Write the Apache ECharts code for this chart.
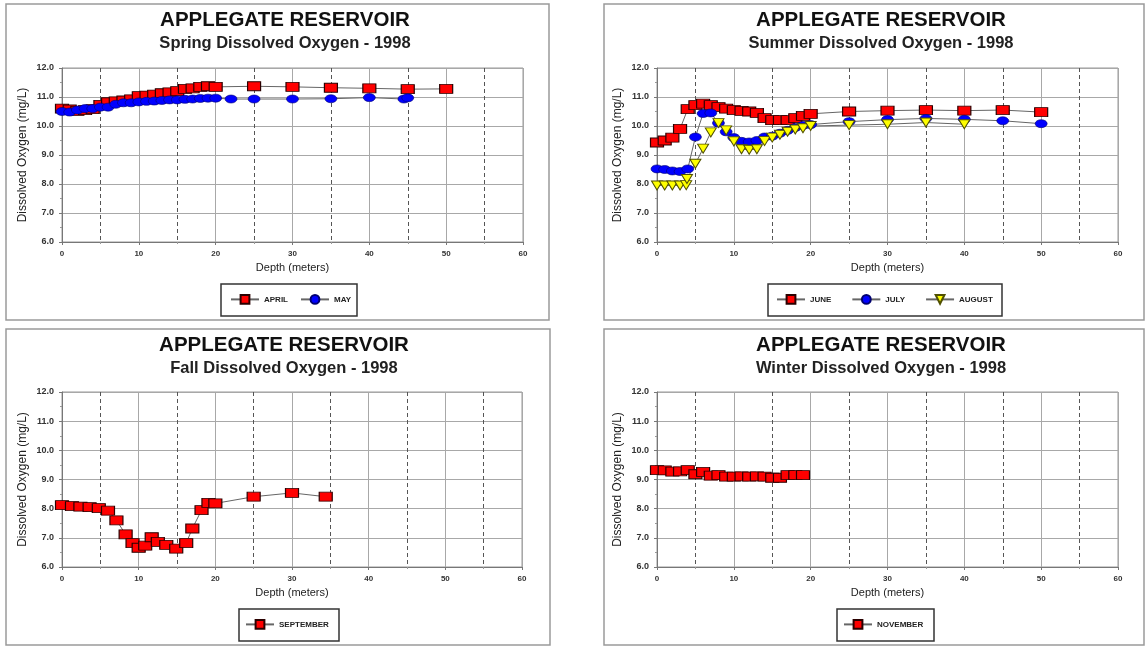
<!DOCTYPE html>
<html><head><meta charset="utf-8">
<script src="https://cdn.jsdelivr.net/npm/echarts@6/dist/echarts.min.js"></script>
<style>html,body{margin:0;padding:0;background:#fff}#c{width:1146px;height:646px}</style>
</head><body><div id="c"></div>
<script>
// ---------- DATA ----------
const mainTitle = 'APPLEGATE RESERVOIR';
const subTitles = ['Spring Dissolved Oxygen - 1998', 'Summer Dissolved Oxygen - 1998', 'Fall Dissolved Oxygen - 1998', 'Winter Dissolved Oxygen - 1998'];
const xAxisTitle = 'Depth (meters)';
const yAxisTitle = 'Dissolved Oxygen (mg/L)';

const aprilDepth = [0,1,2,3,4,5,6,7,8,9,10,11,12,13,14,15,16,17,18,19,20,25,30,35,40,45,50];
const aprilDO    = [10.6,10.57,10.52,10.55,10.58,10.73,10.82,10.85,10.88,10.92,11.03,11.05,11.08,11.13,11.16,11.2,11.28,11.3,11.35,11.37,11.35,11.37,11.35,11.32,11.3,11.27,11.28];

const mayDepth = [0,1,2,3,4,5,6,7,8,9,10,11,12,13,14,15,16,17,18,19,20,22,25,30,35,40,44.5,45];
const mayDO    = [10.5,10.48,10.55,10.6,10.6,10.65,10.65,10.75,10.8,10.8,10.83,10.85,10.86,10.88,10.9,10.9,10.92,10.93,10.95,10.96,10.96,10.93,10.93,10.93,10.94,10.98,10.93,10.97];

const juneDepth = [0,1,2,3,4,5,6,7,8,9,10,11,12,13,14,15,16,17,18,19,20,25,30,35,40,45,50];
const juneDO    = [9.43,9.5,9.6,9.9,10.58,10.72,10.77,10.72,10.65,10.6,10.55,10.52,10.5,10.45,10.27,10.2,10.2,10.2,10.27,10.35,10.42,10.5,10.53,10.55,10.53,10.55,10.48];

const julyDepth = [0,1,2,3,4,5,6,7,8,9,10,11,12,13,14,15,16,17,18,19,20,25,30,35,40,45,50];
const julyDO    = [8.52,8.5,8.45,8.43,8.52,9.62,10.43,10.45,10.1,9.8,9.6,9.47,9.45,9.5,9.62,9.65,9.75,9.85,9.95,10.02,10.05,10.15,10.22,10.26,10.23,10.18,10.08];

const augustDepth = [0,1,2,3,3.8,3.9,5,6,7,8,9,10,11,12,13,14,15,16,17,18,19,20,25,30,35,40];
const augustDO    = [7.95,7.95,7.95,7.95,7.96,8.17,8.7,9.22,9.78,10.1,9.85,9.47,9.2,9.18,9.2,9.48,9.6,9.7,9.8,9.88,9.92,10.0,10.03,10.06,10.12,10.06];

const septemberDepth = [0,1.3,2.4,3.6,4.8,6,7.1,8.3,9.2,10,10.85,11.7,12.5,13.6,14.9,16.2,17,18.2,19.1,20,25,30,34.4];
const septemberDO    = [8.12,8.09,8.07,8.05,8.02,7.93,7.6,7.12,6.82,6.66,6.73,7.02,6.86,6.76,6.63,6.82,7.32,7.95,8.2,8.18,8.41,8.54,8.41];

const novemberDepth = [0,1,2,3,4,5,6,7,8,9,10,11,12,13,14,15,16,17,18,19];
const novemberDO    = [9.32,9.31,9.27,9.28,9.32,9.18,9.26,9.13,9.15,9.1,9.1,9.11,9.1,9.11,9.1,9.06,9.06,9.15,9.15,9.15];

const xMin = 0, xMax = 60, xStep = 10;
const yMin = 6, yMax = 12, yStep = 1;

// ---------- LAYOUT / STYLE ----------
const FONT = 'Liberation Sans, Arial, sans-serif';
const grids = [
  {left: 62, top: 68, width: 461, height: 174},
  {left: 657, top: 68, width: 461, height: 174},
  {left: 62, top: 392, width: 460, height: 175},
  {left: 657, top: 392, width: 461, height: 175}
];
const titleCenters = [[285, 10], [881, 10], [284, 335], [881, 335]];
const panelBoxes = [[6,4,543,316],[604,4,540,316],[6,329,544,316],[604,329,540,316]];
const legendBoxes = [[221,284,136,32],[768,284,234,32],[239,609,100,32],[837,609,97,32]];
const legendPos = [[230,294,12],[776,294,20],[245,619,10],[843,619,10]];
const legendNames = [['APRIL','MAY'],['JUNE','JULY','AUGUST'],['SEPTEMBER'],['NOVEMBER']];

const styles = {
  red:    {symbol: 'rect', symbolSize: [13, 9], symbolRotate: 0, itemStyle: {color: '#ff0000', borderColor: '#2a0000', borderWidth: 1}},
  blue:   {symbol: 'circle', symbolSize: [12, 8], symbolRotate: 0, itemStyle: {color: '#0000ff', borderColor: '#000070', borderWidth: 0.6}},
  yellow: {symbol: 'triangle', symbolSize: [11, 9], symbolRotate: 180, itemStyle: {color: '#ffff00', borderColor: '#505000', borderWidth: 1}}
};

function zip(a, b) { return a.map((v, i) => [v, b[i]]); }
function mk(name, depth, vals, gi, st) {
  return {
    name, type: 'line', xAxisIndex: gi, yAxisIndex: gi,
    data: zip(depth, vals),
    symbol: st.symbol, symbolSize: st.symbolSize, symbolRotate: st.symbolRotate,
    itemStyle: st.itemStyle,
    lineStyle: {color: '#666', width: 1},
    emphasis: {disabled: true},
    animation: false
  };
}

const series = [
  mk('APRIL', aprilDepth, aprilDO, 0, styles.red),
  mk('MAY', mayDepth, mayDO, 0, styles.blue),
  mk('JUNE', juneDepth, juneDO, 1, styles.red),
  mk('JULY', julyDepth, julyDO, 1, styles.blue),
  mk('AUGUST', augustDepth, augustDO, 1, styles.yellow),
  mk('SEPTEMBER', septemberDepth, septemberDO, 2, styles.red),
  mk('NOVEMBER', novemberDepth, novemberDO, 3, styles.red)
];

const option = {
  backgroundColor: '#fff',
  animation: false,
  textStyle: {fontFamily: FONT},
  title: titleCenters.map((c, i) => ({
    text: mainTitle, subtext: subTitles[i],
    left: c[0], top: c[1], textAlign: 'center', padding: 0, itemGap: 4,
    textStyle: {fontSize: 20.5, fontWeight: 'bold', color: '#111', fontFamily: FONT},
    subtextStyle: {fontSize: 16.5, fontWeight: 'bold', color: '#222', fontFamily: FONT}
  })),
  grid: grids.map(g => Object.assign({show: true, borderColor: '#999', borderWidth: 1, backgroundColor: '#fff'}, g)),
  xAxis: grids.map((g, i) => ({
    gridIndex: i, type: 'value', min: xMin, max: xMax, interval: xStep,
    name: xAxisTitle, nameLocation: 'middle', nameGap: 20,
    nameTextStyle: {fontSize: 11, color: '#222', fontFamily: FONT},
    axisLine: {show: true, onZero: false, lineStyle: {color: '#777', width: 1}},
    axisTick: {show: true, length: 3, lineStyle: {color: '#777'}},
    minorTick: {show: true, splitNumber: 2, length: 2, lineStyle: {color: '#999'}},
    axisLabel: {fontSize: 8, fontWeight: 'bold', color: '#333', margin: 8, fontFamily: FONT},
    splitLine: {show: true, lineStyle: {color: '#a8a8a8', width: 1}},
    minorSplitLine: {show: true, lineStyle: {color: '#555', width: 1, type: [4, 3]}}
  })),
  yAxis: grids.map((g, i) => ({
    gridIndex: i, type: 'value', min: yMin, max: yMax, interval: yStep,
    name: yAxisTitle, nameLocation: 'middle', nameGap: 33, nameRotate: 90,
    nameTextStyle: {fontSize: 12, color: '#222', fontFamily: FONT},
    axisLine: {show: true, lineStyle: {color: '#777', width: 1}},
    axisTick: {show: true, length: 3, lineStyle: {color: '#777'}},
    minorTick: {show: true, splitNumber: 2, length: 2, lineStyle: {color: '#999'}},
    axisLabel: {fontSize: 9, fontWeight: 'bold', color: '#333', margin: 8, fontFamily: FONT,
                formatter: v => v.toFixed(1)},
    splitLine: {show: true, lineStyle: {color: '#a8a8a8', width: 1}}
  })),
  legend: legendNames.map((names, i) => ({
    data: names, left: legendPos[i][0], top: legendPos[i][1], itemGap: legendPos[i][2],
    orient: 'horizontal', padding: 0, itemWidth: 28, itemHeight: 11,
    selectedMode: false,
    textStyle: {fontSize: 8, fontWeight: 'bold', color: '#222', fontFamily: FONT}
  })),
  graphic: [
    ...panelBoxes.map(b => ({type: 'rect', shape: {x: b[0], y: b[1], width: b[2], height: b[3]},
      style: {fill: null, stroke: '#9a9a9a', lineWidth: 1.5}, silent: true, z: -10})),
    ...legendBoxes.map(b => ({type: 'rect', shape: {x: b[0], y: b[1], width: b[2], height: b[3]},
      style: {fill: null, stroke: '#333', lineWidth: 1.5}, silent: true}))
  ],
  series
};

const chart = echarts.init(document.getElementById('c'), null, {renderer: 'canvas'});
chart.setOption(option);
</script>
</body></html>
